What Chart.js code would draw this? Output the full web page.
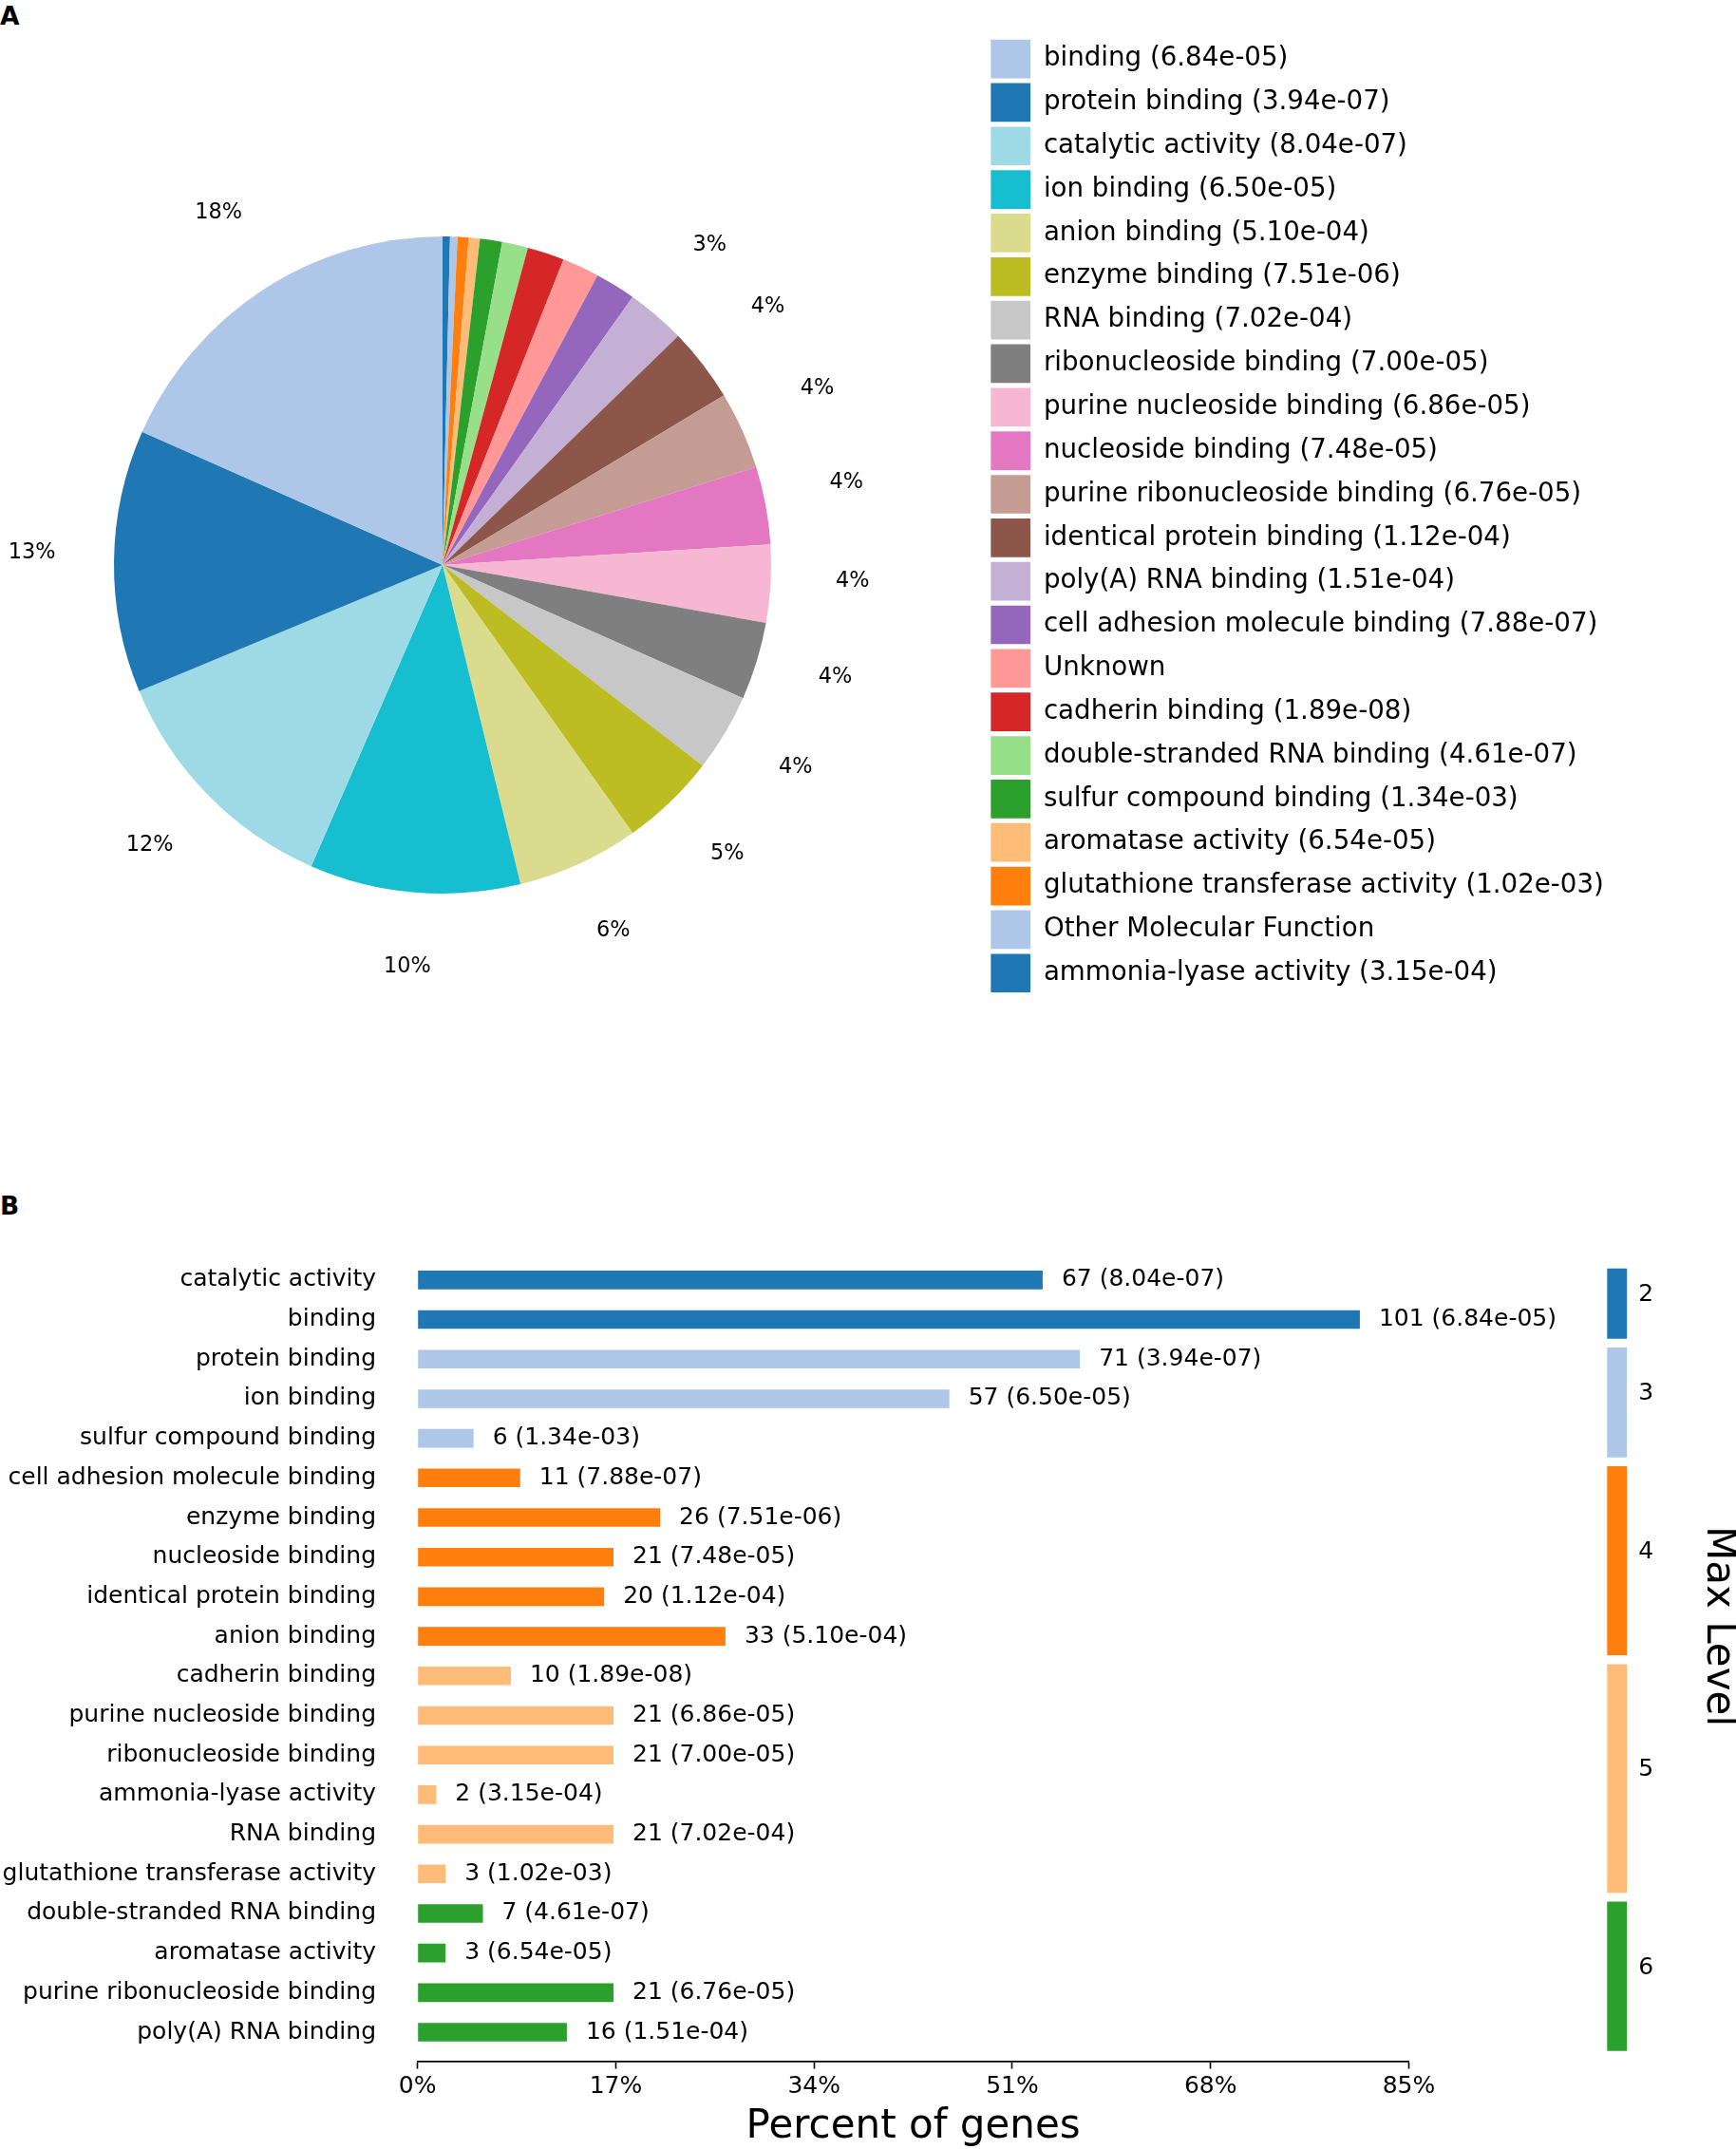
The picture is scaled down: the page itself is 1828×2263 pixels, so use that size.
<!DOCTYPE html>
<html>
<head>
<meta charset="utf-8">
<title>Molecular function enrichment</title>
<script src="https://cdn.jsdelivr.net/npm/chart.js@4.4.1/dist/chart.umd.min.js"></script>
<style>
  html, body { margin: 0; padding: 0; background: #fff; }
  body { position: relative; width: 1828px; height: 2263px; overflow: hidden; font-family: "DejaVu Sans", sans-serif; }
  canvas { position: absolute; }
  #pieChart { left: -126px; top: 0; }
  #barChart { left: 0; top: 1257px; }
  #levelChart { left: 1650px; top: 1230px; }
  .panel { position: absolute; left: 0; font-weight: bold; font-size: 26.5px; line-height: 1; color: #000; }
</style>
</head>
<body>
<div class="panel" style="top:4px">A</div>
<div class="panel" style="top:1257px">B</div>
<canvas id="pieChart" width="1954" height="1180"></canvas>
<canvas id="barChart" width="1828" height="1006"></canvas>
<canvas id="levelChart" width="184" height="970"></canvas>

<script>
// ---- Panel A: pie of molecular function terms (matplotlib order, counter-clockwise from top)
const pieNames = [
    'binding', 'protein binding', 'catalytic activity', 'ion binding', 'anion binding',
    'enzyme binding', 'RNA binding', 'ribonucleoside binding', 'purine nucleoside binding',
    'nucleoside binding', 'purine ribonucleoside binding', 'identical protein binding',
    'poly(A) RNA binding', 'cell adhesion molecule binding', 'Unknown', 'cadherin binding',
    'double-stranded RNA binding', 'sulfur compound binding', 'aromatase activity',
    'glutathione transferase activity', 'Other Molecular Function', 'ammonia-lyase activity'
];
const piePvalues = [
    '6.84e-05', '3.94e-07', '8.04e-07', '6.50e-05', '5.10e-04', '7.51e-06', '7.02e-04',
    '7.00e-05', '6.86e-05', '7.48e-05', '6.76e-05', '1.12e-04', '1.51e-04', '7.88e-07',
    null, '1.89e-08', '4.61e-07', '1.34e-03', '6.54e-05', '1.02e-03', null, '3.15e-04'
];
const pieCounts = [101, 71, 67, 57, 33, 26, 21, 21, 21, 21, 21, 20, 16, 11, 10, 10, 7, 6, 3, 3, 2, 2];
const pieColors = [
    '#aec7e8', '#1f77b4', '#9edae5', '#17becf', '#dbdb8d', '#bcbd22', '#c7c7c7', '#7f7f7f',
    '#f7b6d2', '#e377c2', '#c49c94', '#8c564b', '#c5b0d5', '#9467bd', '#ff9896', '#d62728',
    '#98df8a', '#2ca02c', '#ffbb78', '#ff7f0e', '#aec7e8', '#1f77b4'
];

// ---- Panel B: horizontal bars, top to bottom
const barNames = [
    'catalytic activity', 'binding', 'protein binding', 'ion binding', 'sulfur compound binding',
    'cell adhesion molecule binding', 'enzyme binding', 'nucleoside binding',
    'identical protein binding', 'anion binding', 'cadherin binding', 'purine nucleoside binding',
    'ribonucleoside binding', 'ammonia-lyase activity', 'RNA binding',
    'glutathione transferase activity', 'double-stranded RNA binding', 'aromatase activity',
    'purine ribonucleoside binding', 'poly(A) RNA binding'
];
const barCounts = [67, 101, 71, 57, 6, 11, 26, 21, 20, 33, 10, 21, 21, 2, 21, 3, 7, 3, 21, 16];
const barPvalues = [
    '8.04e-07', '6.84e-05', '3.94e-07', '6.50e-05', '1.34e-03', '7.88e-07', '7.51e-06',
    '7.48e-05', '1.12e-04', '5.10e-04', '1.89e-08', '6.86e-05', '7.00e-05', '3.15e-04',
    '7.02e-04', '1.02e-03', '4.61e-07', '6.54e-05', '6.76e-05', '1.51e-04'
];
const barLevels = [2, 2, 3, 3, 3, 4, 4, 4, 4, 4, 5, 5, 5, 5, 5, 5, 6, 6, 6, 6];
const totalGenes = 125;
const percentTicks = [0, 17, 34, 51, 68, 85];

const levelNames = [2, 3, 4, 5, 6];
const levelColors = ['#1f77b4', '#aec7e8', '#ff7f0e', '#ffbb78', '#2ca02c'];

const FONT = '"DejaVu Sans", sans-serif';
const TICK_SIZE = 25, TITLE_SIZE = 42;
Chart.defaults.font.family = FONT;
Chart.defaults.color = '#000';
Chart.defaults.animation = false;

// percent labels outside the pie, only for slices of 2.5% and up
const pieLabels = {
    id: 'pieLabels',
    afterDatasetsDraw(chart) {
        const ctx = chart.ctx;
        const values = chart.data.datasets[0].data;
        const total = values.reduce((a, b) => a + b, 0);
        ctx.save();
        ctx.font = '22.4px ' + FONT;
        ctx.fillStyle = '#000';
        ctx.textAlign = 'center';
        ctx.textBaseline = 'middle';
        chart.getDatasetMeta(0).data.forEach((arc, i) => {
            const pct = values[i] / total * 100;
            if (pct < 2.5) return;
            const mid = (arc.startAngle + arc.endAngle) / 2;
            const r = arc.outerRadius * 1.25;
            ctx.fillText(Math.round(pct) + '%', arc.x + Math.cos(mid) * r, arc.y + Math.sin(mid) * r - 8);
        });
        ctx.restore();
    }
};

// count (p-value) after each bar
const barLabels = {
    id: 'barLabels',
    afterDatasetsDraw(chart) {
        const ctx = chart.ctx;
        ctx.save();
        ctx.font = TICK_SIZE + 'px ' + FONT;
        ctx.fillStyle = '#000';
        ctx.textAlign = 'left';
        ctx.textBaseline = 'middle';
        chart.getDatasetMeta(0).data.forEach((bar, i) => {
            ctx.fillText(`${barCounts[i]} (${barPvalues[i]})`, bar.x + 20, bar.y);
        });
        ctx.restore();
    }
};

// pie: Chart.js goes clockwise, so feed it reversed and reverse the legend back
const rev = arr => arr.slice().reverse();
const pieLegendText = pieNames.map((n, i) => piePvalues[i] ? `${n} (${piePvalues[i]})` : n);

// legend is a right-hand box; work out its width so the pie centre lands where it should
const legendFontSize = 27.7, legendBox = 41.7, legendPad = 5.14;
const probe = document.createElement('canvas').getContext('2d');
probe.font = `${legendFontSize}px ${FONT}`;
const longestText = Math.max(...pieLegendText.map(t => probe.measureText(t).width));
const legendWidth = legendPad + legendBox + legendFontSize / 2 + longestText + 10;
const pieCanvasW = 1954, pieShift = 126, legendLeft = 1038.2;
const pieRightPad = pieCanvasW - legendWidth - (legendLeft + pieShift);

new Chart(document.getElementById('pieChart'), {
    type: 'pie',
    data: {
        labels: rev(pieLegendText),
        datasets: [{
            data: rev(pieCounts),
            backgroundColor: rev(pieColors),
            borderWidth: 0,
            radius: 346
        }]
    },
    options: {
        responsive: false,
        events: [],
        layout: { padding: { left: 19.8, right: pieRightPad, top: 36.6, bottom: 26.6 } },
        plugins: {
            tooltip: { enabled: false },
            legend: {
                position: 'right',
                align: 'start',
                reverse: true,
                labels: {
                    boxWidth: legendBox,
                    boxHeight: 40.7,
                    padding: legendPad,
                    color: '#000',
                    font: { size: legendFontSize }
                }
            }
        }
    },
    plugins: [pieLabels]
});

new Chart(document.getElementById('barChart'), {
    type: 'bar',
    data: {
        datasets: [{
            data: barCounts.map((c, i) => ({ x: c / totalGenes * 100, y: i })),
            backgroundColor: barLevels.map(l => levelColors[levelNames.indexOf(l)]),
            barPercentage: 0.47,
            categoryPercentage: 1
        }]
    },
    options: {
        indexAxis: 'y',
        responsive: false,
        events: [],
        // top padding must beat the y axis label padding (ticks.padding + half a label)
        layout: { padding: { left: 0, right: 344.5, top: 60.4, bottom: 0 } },
        plugins: { legend: { display: false }, tooltip: { enabled: false } },
        scales: {
            x: {
                type: 'linear',
                min: 0,
                max: 85,
                afterBuildTicks: s => { s.ticks = percentTicks.map(v => ({ value: v })); },
                afterFit: s => { s.height = 92.5; },
                ticks: { callback: v => v + '%', font: { size: TICK_SIZE }, padding: 4, color: '#000' },
                grid: { display: true, drawOnChartArea: false, drawTicks: true, tickLength: 8, tickColor: '#000', tickWidth: 1.6 },
                border: { display: true, color: '#000', width: 1.8 },
                title: { display: true, text: 'Percent of genes', color: '#000', font: { size: TITLE_SIZE, lineHeight: 1.1 }, padding: 0 }
            },
            y: {
                type: 'linear',
                offset: false,
                min: -0.73,
                max: 19.73,
                reverse: true,
                afterBuildTicks: s => { s.ticks = barNames.map((_, i) => ({ value: i })); },
                afterFit: s => { s.width = 439.7; },
                ticks: { autoSkip: false, callback: v => barNames[v], font: { size: TICK_SIZE }, padding: 43.7, color: '#000' },
                grid: { display: false, drawTicks: false },
                border: { display: false }
            }
        }
    },
    plugins: [barLabels]
});

// Max Level strip: one stacked bar, one segment per level
const levelCounts = levelNames.map(l => barLevels.filter(v => v === l).length);
const levelCenters = levelNames.map(l => (barLevels.indexOf(l) + barLevels.lastIndexOf(l) + 1) / 2);

new Chart(document.getElementById('levelChart'), {
    type: 'bar',
    data: {
        labels: ['Max Level'],
        datasets: levelNames.map((l, i) => ({
            label: String(l),
            data: [levelCounts[i]],
            backgroundColor: levelColors[i],
            borderColor: '#fff',
            borderWidth: { top: 5, bottom: 5, left: 0, right: 0 },
            borderSkipped: false,
            barThickness: 21
        }))
    },
    options: {
        responsive: false,
        events: [],
        layout: { padding: { left: 32.3, right: 0, top: 30.6, bottom: 35.5 } },
        plugins: { legend: { display: false }, tooltip: { enabled: false } },
        scales: {
            x: { stacked: true, display: false },
            y: {
                stacked: true,
                position: 'right',
                min: -1.69,
                max: 20,
                reverse: true,
                afterBuildTicks: s => { s.ticks = levelCenters.map(v => ({ value: v })); },
                afterFit: s => { s.width = 110.7; },
                ticks: {
                    autoSkip: false,
                    callback: (v, i) => String(levelNames[i]),
                    font: { size: TICK_SIZE },
                    padding: 2,
                    labelOffset: -9,
                    color: '#000'
                },
                grid: { display: false, drawTicks: false },
                border: { display: false },
                title: { display: true, text: 'Max Level', color: '#000', font: { size: TITLE_SIZE }, padding: 0 }
            }
        }
    }
});
</script>
</body>
</html>
